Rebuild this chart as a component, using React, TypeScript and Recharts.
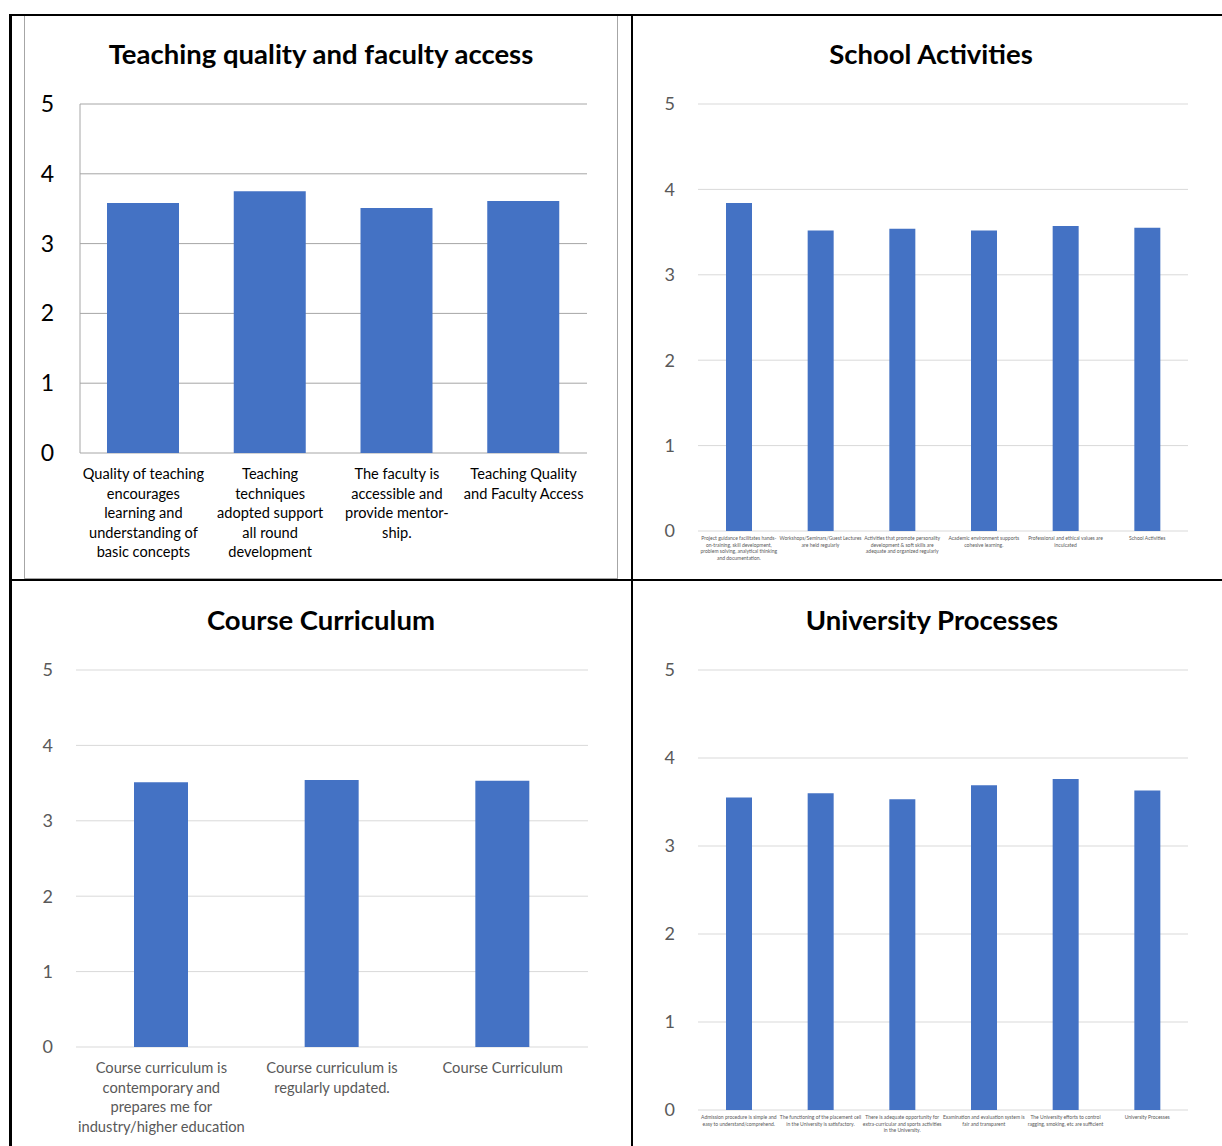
import { BarChart, Bar, XAxis, YAxis, CartesianGrid } from 'recharts'

const FONT = 'Lato, "Open Sans", sans-serif'
const BLUE = '#4472C4'
const GREY_TEXT = '#595959'

// Teaching quality and faculty access
const teachingLabels = [
  'Quality of teaching\nencourages\nlearning and\nunderstanding of\nbasic concepts',
  'Teaching\ntechniques\nadopted support\nall round\ndevelopment',
  'The faculty is\naccessible and\nprovide mentor-\nship.',
  'Teaching Quality\nand Faculty Access',
]
const teachingValues = [3.58, 3.75, 3.51, 3.61]

// School Activities
const schoolLabels = [
  'Project guidance facilitates hands-\non-training, skill development,\nproblem solving, analytical thinking\nand documentation.',
  'Workshops/Seminars/Guest Lectures\nare held regularly',
  'Activities that promote personality\ndevelopment & soft skills are\nadequate and organized regularly',
  'Academic environment supports\ncohesive learning.',
  'Professional and ethical values are\ninculcated',
  'School Activities',
]
const schoolValues = [3.84, 3.52, 3.54, 3.52, 3.57, 3.55]

// Course Curriculum
const courseLabels = [
  'Course curriculum is\ncontemporary and\nprepares me for\nindustry/higher education',
  'Course curriculum is\nregularly updated.',
  'Course Curriculum',
]
const courseValues = [3.51, 3.54, 3.53]

// University Processes
const uniLabels = [
  'Admission procedure is simple and\neasy to understand/comprehend.',
  'The functioning of the placement cell\nin the University is satisfactory.',
  'There is adequate opportunity for\nextra-curricular and sports activities\nin the University.',
  'Examination and evaluation system is\nfair and transparent',
  'The University efforts to control\nragging, smoking, etc are sufficient',
  'University Processes',
]
const uniValues = [3.55, 3.6, 3.53, 3.69, 3.76, 3.63]

const yTicks = [0, 1, 2, 3, 4, 5]

function toRows(labels: string[], values: number[]) {
  return labels.map((name, i) => ({ name, value: values[i] }))
}

function WrappedTick(props: any) {
  const { x, y, payload, size, color, lh, dy0 } = props
  const lines = String(payload.value).split('\n')
  return (
    <text x={x} y={y} textAnchor="middle" fill={color} fontSize={size} fontFamily={FONT}>
      {lines.map((line: string, i: number) => (
        <tspan key={i} x={x} dy={i === 0 ? dy0 : lh}>
          {line}
        </tspan>
      ))}
    </text>
  )
}

function ValueTick(props: any) {
  const { x, y, payload, size, color } = props
  return (
    <text x={x} y={y} dy="0.35em" textAnchor="end" fill={color} fontSize={size} fontFamily={FONT}>
      {payload.value}
    </text>
  )
}

interface PanelProps {
  title: string
  titleTop: number
  titleCenter: number
  data: { name: string; value: number }[]
  left: number
  top: number
  width: number
  height: number
  margin: { top: number; right: number; bottom: number; left: number }
  yWidth: number
  yGap: number
  yFont: number
  yColor: string
  gridColor: string
  axisLine: boolean
  barSize: number
  xFont: number
  xColor: string
  xLine: number
  xDy: number
}

function Panel(p: PanelProps) {
  const xHeight = p.margin.bottom - 4
  return (
    <div style={{ position: 'absolute', left: p.left, top: p.top, width: p.width, height: p.height }}>
      <div
        style={{
          position: 'absolute',
          left: p.titleCenter - p.left - 400,
          top: p.titleTop,
          width: 800,
          textAlign: 'center',
          fontFamily: FONT,
          fontWeight: 700,
          fontSize: 27.5,
          color: '#000',
          lineHeight: '30px',
          whiteSpace: 'nowrap',
        }}
      >
        {p.title}
      </div>
      <BarChart
        width={p.width}
        height={p.height}
        data={p.data}
        margin={{ ...p.margin, bottom: 4 }}
        style={{ position: 'absolute', left: 0, top: 0 }}
      >
        <CartesianGrid vertical={false} stroke={p.gridColor} strokeWidth={1} />
        <XAxis
          dataKey="name"
          interval={0}
          axisLine={false}
          tickLine={false}
          tickSize={0}
          tickMargin={0}
          height={xHeight}
          tick={(t: any) => <WrappedTick {...t} size={p.xFont} color={p.xColor} lh={p.xLine} dy0={p.xDy} />}
        />
        <YAxis
          domain={[0, 5]}
          ticks={yTicks}
          width={p.yWidth}
          axisLine={p.axisLine ? { stroke: p.gridColor } : false}
          tickLine={false}
          tickSize={0}
          tickMargin={p.yGap}
          tick={(t: any) => <ValueTick {...t} size={p.yFont} color={p.yColor} />}
        />
        <Bar dataKey="value" fill={BLUE} barSize={p.barSize} isAnimationActive={false} />
      </BarChart>
    </div>
  )
}

export default function App() {
  return (
    <div style={{ position: 'absolute', left: 0, top: 0, width: 1222, height: 1146, background: '#fff', overflow: 'hidden' }}>
      {/* chart frame of first panel */}
      <div style={{ position: 'absolute', left: 24, top: 15, width: 592, height: 562, border: '1px solid #a6a6a6' }} />

      <Panel
        title="Teaching quality and faculty access"
        titleTop={24}
        titleCenter={321}
        data={toRows(teachingLabels, teachingValues)}
        left={24}
        top={15}
        width={594}
        height={563}
        margin={{ top: 89, right: 31, bottom: 125, left: 16 }}
        yWidth={40}
        yGap={26}
        yFont={23}
        yColor="#000"
        gridColor="#a6a6a6"
        axisLine={true}
        barSize={72}
        xFont={14.6}
        xColor="#000"
        xLine={19.5}
        xDy={26}
      />
      <Panel
        title="School Activities"
        titleTop={24}
        titleCenter={931}
        data={toRows(schoolLabels, schoolValues)}
        left={633}
        top={15}
        width={589}
        height={564}
        margin={{ top: 89, right: 34, bottom: 48, left: 25 }}
        yWidth={40}
        yGap={23}
        yFont={18}
        yColor={GREY_TEXT}
        gridColor="#d9d9d9"
        axisLine={false}
        barSize={26}
        xFont={5}
        xColor={GREY_TEXT}
        xLine={6.7}
        xDy={9}
      />
      <Panel
        title="Course Curriculum"
        titleTop={25}
        titleCenter={321}
        data={toRows(courseLabels, courseValues)}
        left={11}
        top={580}
        width={621}
        height={566}
        margin={{ top: 90, right: 44, bottom: 99, left: 25 }}
        yWidth={40}
        yGap={23}
        yFont={18}
        yColor={GREY_TEXT}
        gridColor="#d9d9d9"
        axisLine={false}
        barSize={54}
        xFont={14.7}
        xColor={GREY_TEXT}
        xLine={19.5}
        xDy={26}
      />
      <Panel
        title="University Processes"
        titleTop={25}
        titleCenter={932}
        data={toRows(uniLabels, uniValues)}
        left={633}
        top={580}
        width={589}
        height={566}
        margin={{ top: 90, right: 34, bottom: 36, left: 25 }}
        yWidth={40}
        yGap={23}
        yFont={18}
        yColor={GREY_TEXT}
        gridColor="#d9d9d9"
        axisLine={false}
        barSize={26}
        xFont={5}
        xColor={GREY_TEXT}
        xLine={6.7}
        xDy={9}
      />

      {/* table borders */}
      <div style={{ position: 'absolute', left: 9, top: 14, width: 3, height: 1132, background: '#000' }} />
      <div style={{ position: 'absolute', left: 10, top: 14, width: 1212, height: 2, background: '#000' }} />
      <div style={{ position: 'absolute', left: 631, top: 14, width: 2, height: 1132, background: '#000' }} />
      <div style={{ position: 'absolute', left: 10, top: 579, width: 1212, height: 2, background: '#000' }} />
    </div>
  )
}
